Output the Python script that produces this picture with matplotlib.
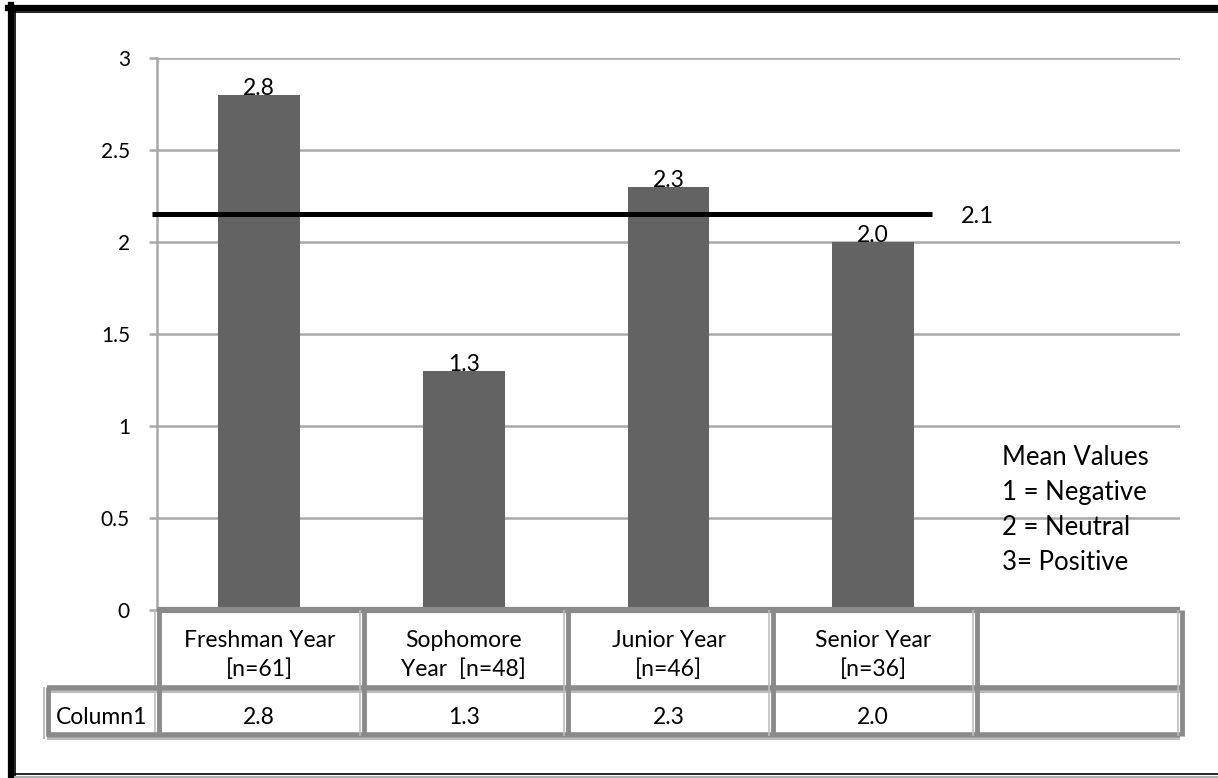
import matplotlib
matplotlib.use("Agg")
import matplotlib.pyplot as plt
from matplotlib.transforms import blended_transform_factory, Affine2D
from matplotlib.lines import Line2D

plt.rcParams['font.family'] = ['Lato', 'DejaVu Sans']

# Survey results by class year
categories = ["Freshman Year\n[n=61]", "Sophomore\nYear  [n=48]",
              "Junior Year\n[n=46]", "Senior Year\n[n=36]", ""]
mean_scores = [2.8, 1.3, 2.3, 2.0]
sample_sizes = [61, 48, 46, 36]
row_label = "Column1"
y_ticks = [0, 0.5, 1, 1.5, 2, 2.5, 3]
y_tick_labels = ["0", "0.5", "1", "1.5", "2", "2.5", "3"]
legend_lines = ["Mean Values", "1 = Negative", "2 = Neutral", "3= Positive"]

# overall mean weighted by the number of respondents
overall_mean = sum(m * n for m, n in zip(mean_scores, sample_sizes)) / sum(sample_sizes)
overall_label = f"{int(overall_mean * 10) / 10:.1f}"

W, H = 1218, 778
fig = plt.figure(figsize=(W / 100, H / 100), dpi=100)

def fx(px):
    return px / W

def fy(py):
    return 1 - py / H

ax_left, ax_right, ax_top, ax_bottom = 157, 1180, 58, 610
ax = fig.add_axes([fx(ax_left), fy(ax_bottom), fx(ax_right - ax_left), (ax_bottom - ax_top) / H])

bar_color = "#636363"
grid_color = "#a8a8a8"
x = list(range(len(categories)))
ax.bar(x[:len(mean_scores)], mean_scores, width=0.4, color=bar_color, zorder=3)

for xi, v in zip(x, mean_scores):
    ax.text(xi, v, f"{v:.1f}", ha="center", va="baseline", fontsize=16.5, zorder=4)

ax.set_xlim(-0.5, len(categories) - 0.5)
ax.set_ylim(0, 3)
ax.set_yticks(y_ticks)
ax.set_yticklabels(y_tick_labels, fontsize=15)
ax.set_xticks([])
ax.yaxis.grid(True, color=grid_color, linewidth=1.8, zorder=0)
ax.tick_params(axis="y", length=6, width=1.8, color=grid_color, pad=13.5)
for side in ["top", "right", "bottom"]:
    ax.spines[side].set_visible(False)
ax.spines["left"].set_color(grid_color)
ax.spines["left"].set_linewidth(1.8)

# overall mean reference line and its label
ax.plot([-0.525, 3.29], [overall_mean, overall_mean], color="black", linewidth=3.6,
        solid_capstyle="butt", zorder=5, clip_on=False)
ax.text(3.43, overall_mean, overall_label, fontsize=17, va="center_baseline", ha="left")

# scale legend
ax.text(3.63, 0.895, "\n".join(legend_lines), fontsize=18.5, va="top", ha="left",
        linespacing=1.5)

# data table beneath the plot
tr = blended_transform_factory(ax.transData, fig.transFigure)
dark = "#8a8a8a"
light = "#bdbdbd"

def hline(x0, x1, py, color, lw):
    fig.add_artist(Line2D([x0, x1], [fy(py), fy(py)], transform=tr, color=color,
                          linewidth=lw, solid_capstyle="butt"))

def vline(xd, py0, py1, color, lw, dx_px=0):
    t = tr + Affine2D().translate(dx_px, 0)
    fig.add_artist(Line2D([xd, xd], [fy(py0), fy(py1)], transform=t, color=color,
                          linewidth=lw, solid_capstyle="butt"))

x0, x1 = -0.5, len(categories) - 0.5
head_top, head_bot, row_bot = 610, 690, 735
hline(x0, x1, head_top, dark, 4.5)
hline(x0, x1, head_bot - 2, dark, 4.0)
hline(x0, x1, head_bot + 2, light, 1.5)
hline(x0, x1, row_bot, dark, 4.0)
hline(x0, x1, row_bot + 4, light, 1.5)
for b in [i - 0.5 for i in range(len(categories) + 1)]:
    vline(b, head_top, row_bot + 1, dark, 3.5, dx_px=2)
    vline(b, head_top, row_bot + 1, light, 1.2, dx_px=-2)

# row header cell to the left of the axis
xl = ax.transData.inverted().transform((47, 0))[0]
hline(xl, x0, head_bot - 2, dark, 4.0)
hline(xl, x0, head_bot + 2, light, 1.5)
hline(xl, x0, row_bot, dark, 4.0)
hline(xl, x0, row_bot + 4, light, 1.5)
vline(xl, head_bot - 3, row_bot + 4, light, 1.5, dx_px=-3)
vline(xl, head_bot - 3, row_bot + 1, dark, 3.5, dx_px=1)

for xi, lab in zip(x, categories):
    fig.text(xi, fy(655), lab, transform=tr, ha="center", va="center", fontsize=16.5,
             linespacing=1.45)
for xi, v in zip(x, mean_scores):
    fig.text(xi, fy(718), f"{v:.1f}", transform=tr, ha="center", va="center", fontsize=16.5)
fig.text((xl + x0) / 2, fy(718), row_label, transform=tr, ha="center", va="center",
         fontsize=16.5)

# chart frame
fig.add_artist(Line2D([fx(10.5), fx(10.5)], [fy(5), fy(778)], color="black", linewidth=4.5))
fig.add_artist(Line2D([fx(8), fx(1218)], [fy(7.5), fy(7.5)], color="black", linewidth=4.5))
fig.add_artist(Line2D([fx(15), fx(15)], [fy(12), fy(778)], color="black", linewidth=1.2))
fig.add_artist(Line2D([fx(15), fx(1218)], [fy(12), fy(12)], color="black", linewidth=1.2))
fig.add_artist(Line2D([fx(15), fx(1218)], [fy(774), fy(774)], color="black", linewidth=1.2))
fig.add_artist(Line2D([fx(15), fx(1218)], [fy(777), fy(777)], color="#b0b0b0", linewidth=1.5))

fig.savefig("out.png", dpi=100)
